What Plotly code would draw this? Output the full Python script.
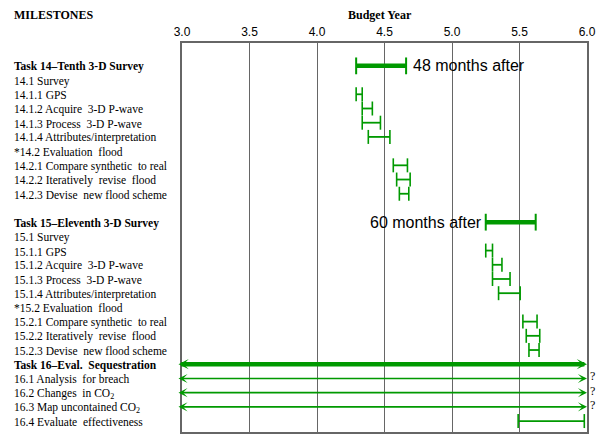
import plotly.graph_objects as go

# ---------------- data ----------------
row_labels = [
    "<b>Task 14–Tenth 3-D Survey</b>",
    "14.1 Survey",
    "14.1.1 GPS",
    "14.1.2 Acquire  3-D P-wave",
    "14.1.3 Process  3-D P-wave",
    "14.1.4 Attributes/interpretation",
    "*14.2 Evaluation  flood",
    "14.2.1 Compare synthetic  to real",
    "14.2.2 Iteratively  revise  flood",
    "14.2.3 Devise  new flood scheme",
    "",
    "<b>Task 15–Eleventh 3-D Survey</b>",
    "15.1 Survey",
    "15.1.1 GPS",
    "15.1.2 Acquire  3-D P-wave",
    "15.1.3 Process  3-D P-wave",
    "15.1.4 Attributes/interpretation",
    "*15.2 Evaluation  flood",
    "15.2.1 Compare synthetic  to real",
    "15.2.2 Iteratively  revise  flood",
    "15.2.3 Devise  new flood scheme",
    "<b>Task 16–Eval.  Sequestration</b>",
    "16.1 Analysis  for breach",
    "16.2 Changes  in CO<sub>2</sub>",
    "16.3 Map uncontained CO<sub>2</sub>",
    "16.4 Evaluate  effectiveness",
]

# task summary bars (thick): row, start, end, note
task_rows = [0, 11]
task_start = [4.29, 5.25]
task_end = [4.66, 5.62]
task_notes = ["48 months after", "60 months after"]

# sub-task bars (thin)
sub_rows = [2, 3, 4, 5, 7, 8, 9, 13, 14, 15, 16, 18, 19, 20, 25]
sub_start = [4.29, 4.335, 4.335, 4.38, 4.565, 4.59, 4.61,
             5.25, 5.30, 5.30, 5.345, 5.525, 5.55, 5.57, 5.49]
sub_end = [4.335, 4.41, 4.47, 4.54, 4.67, 4.69, 4.68,
           5.30, 5.37, 5.43, 5.505, 5.63, 5.65, 5.645, 5.98]

# ongoing (double arrow) rows
arrow_rows = [21, 22, 23, 24]
arrow_start = [2.963, 2.963, 2.963, 2.963]
arrow_end = [6.0, 6.0, 6.0, 6.0]
arrow_thick = [True, False, False, False]
arrow_question = [False, True, True, True]

x_ticks = [3.0, 3.5, 4.0, 4.5, 5.0, 5.5, 6.0]

GREEN = "#009900"
SERIF = "Liberation Serif, Times New Roman, serif"
SANS = "Liberation Sans, Arial, sans-serif"

fig = go.Figure()

# thin sub-task bars
for r, s, e in zip(sub_rows, sub_start, sub_end):
    fig.add_trace(go.Scatter(
        x=[s, e], y=[r, r], mode="lines+markers",
        line=dict(color=GREEN, width=1.8),
        marker=dict(symbol="line-ns", size=10, line=dict(color=GREEN, width=1.6)),
        hoverinfo="skip", showlegend=False, cliponaxis=False))

# thick task bars
for r, s, e in zip(task_rows, task_start, task_end):
    fig.add_trace(go.Scatter(
        x=[s, e], y=[r, r], mode="lines+markers",
        line=dict(color=GREEN, width=4.5),
        marker=dict(symbol="line-ns", size=12, line=dict(color=GREEN, width=2)),
        hoverinfo="skip", showlegend=False, cliponaxis=False))

annotations = []

# double arrows drawn in data coordinates
for r, s, e, thick in zip(arrow_rows, arrow_start, arrow_end, arrow_thick):
    w = 4.5 if thick else 1.6
    sz = 0.38 if thick else 0.95
    annotations.append(dict(
        x=e, y=r, ax=s, ay=r, xref="x", yref="y", axref="x", ayref="y",
        text="", showarrow=True, arrowhead=3, startarrowhead=3,
        arrowside="end+start", arrowwidth=w,
        arrowsize=sz, startarrowsize=sz, arrowcolor=GREEN))

# notes on task bars
annotations.append(dict(x=task_end[0], y=task_rows[0], xref="x", yref="y",
                        text=task_notes[0], showarrow=False, xanchor="left",
                        xshift=5, font=dict(family=SANS, size=16, color="black")))
annotations.append(dict(x=task_start[1], y=task_rows[1], xref="x", yref="y",
                        text=task_notes[1], showarrow=False, xanchor="right",
                        xshift=-2, font=dict(family=SANS, size=16, color="black")))

for r, e, q in zip(arrow_rows, arrow_end, arrow_question):
    if q:
        annotations.append(dict(x=e, y=r, xref="x", yref="y", text="?",
                                showarrow=False, xanchor="left", yshift=2, xshift=1,
                                font=dict(family=SERIF, size=12, color="black")))

# row labels
for i, lab in enumerate(row_labels):
    if lab:
        annotations.append(dict(x=-0.42, y=i, xref="paper", yref="y", text=lab,
                                showarrow=False, xanchor="left", yshift=-1,
                                font=dict(family=SERIF, size=11.5, color="black")))

annotations.append(dict(x=-0.42, y=1.0, xref="paper", yref="paper", yshift=28,
                        text="<b>MILESTONES</b>", showarrow=False, xanchor="left",
                        yanchor="middle", font=dict(family=SERIF, size=12, color="black")))
annotations.append(dict(x=0.49, y=1.0, xref="paper", yref="paper", yshift=28,
                        text="<b>Budget Year</b>", showarrow=False, xanchor="center",
                        yanchor="middle", font=dict(family=SERIF, size=12, color="black")))

fig.update_layout(
    width=608, height=433,
    margin=dict(l=174, r=29, t=35, b=7),
    paper_bgcolor="white", plot_bgcolor="white",
    annotations=annotations,
    xaxis=dict(range=[3, 6], side="top", tickvals=x_ticks,
               ticktext=[f"{v:.1f}" for v in x_ticks],
               showgrid=True, gridcolor="#666666", gridwidth=1.3,
               showline=True, mirror=True, linecolor="#666666", linewidth=1.5,
               ticks="", zeroline=False,
               tickfont=dict(family=SANS, size=12, color="black")),
    yaxis=dict(range=[25.77, -1.61], showticklabels=False, showgrid=False,
               zeroline=False, showline=True, mirror=True,
               linecolor="#666666", linewidth=1.5, ticks=""),
)

fig.write_html("out.html")
